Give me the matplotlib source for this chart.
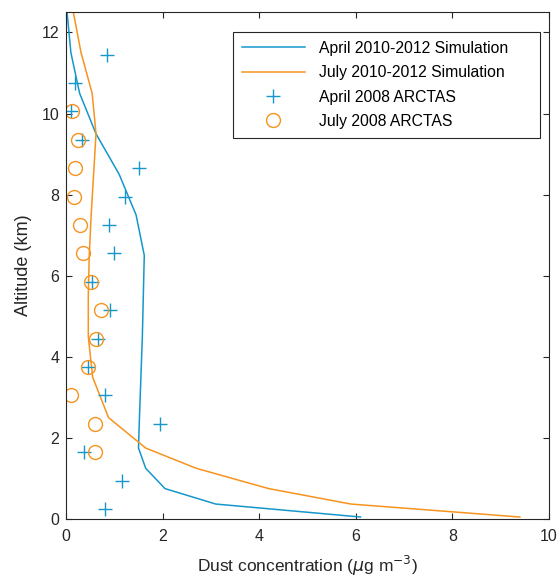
import matplotlib
matplotlib.use('Agg')
import matplotlib.pyplot as plt

# model levels (km) and simulated dust profiles
sim_alt = [0.05, 0.37, 0.75, 1.25, 1.75, 2.5, 3.5, 4.5, 5.5, 6.5, 7.5, 8.5, 9.5, 10.5, 11.5, 12.5]
april_sim = [6.1, 3.1, 2.05, 1.65, 1.5, 1.52, 1.55, 1.58, 1.6, 1.62, 1.45, 1.1, 0.62, 0.28, 0.1, 0.02]
july_sim = [9.4, 5.9, 4.2, 2.7, 1.65, 0.88, 0.55, 0.46, 0.46, 0.48, 0.52, 0.57, 0.62, 0.54, 0.31, 0.15]

# ARCTAS observations
april_obs_alt = [0.25, 0.95, 1.65, 2.35, 3.05, 3.75, 4.45, 5.15, 5.85, 6.55, 7.25, 7.95, 8.65, 9.35, 10.05, 10.75, 11.45]
april_obs = [0.8, 1.16, 0.38, 1.94, 0.8, 0.45, 0.66, 0.9, 0.53, 1.0, 0.89, 1.23, 1.52, 0.32, 0.1, 0.19, 0.84]
july_obs_alt = [1.65, 2.35, 3.05, 3.75, 4.45, 5.15, 5.85, 6.55, 7.25, 7.95, 8.65, 9.35, 10.05]
july_obs = [0.59, 0.59, 0.11, 0.45, 0.62, 0.73, 0.51, 0.36, 0.28, 0.16, 0.19, 0.24, 0.13]

blue = '#1597CB'
orange = '#F7931E'

plt.rcParams['font.family'] = ['Liberation Sans', 'DejaVu Sans']

fig = plt.figure(figsize=(5.6, 5.78), dpi=100)
ax = fig.add_axes([0.118, 0.102, 0.862, 0.877])

ax.plot(april_sim, sim_alt, color=blue, lw=1.1, label='April 2010-2012 Simulation')
ax.plot(july_sim, sim_alt, color=orange, lw=1.1, label='July 2010-2012 Simulation')
ax.plot(april_obs, april_obs_alt, '+', color=blue, ms=10, mew=1.0, label='April 2008 ARCTAS')
ax.plot(july_obs, july_obs_alt, 'o', color=orange, mfc='none', ms=10, mew=1.0,
        label='July 2008 ARCTAS')

ax.set_xlim(0, 10)
ax.set_ylim(0, 12.5)
ax.set_xticks([0, 2, 4, 6, 8, 10])
ax.set_yticks([0, 2, 4, 6, 8, 10, 12])
ax.tick_params(direction='in', top=True, right=True, labelsize=11.5, colors='#262626',
               length=4, width=0.8)
ax.tick_params(axis='x', pad=7.5)
ax.tick_params(axis='y', pad=5)
for s in ax.spines.values():
    s.set_color('#262626')
    s.set_linewidth(0.8)

ax.set_xlabel('Dust concentration ($\\mu$g m$^{-3}$)', fontsize=12.5, labelpad=7,
              color='#262626')
ax.set_ylabel('Altitude (km)', fontsize=13, labelpad=7, color='#262626')

leg = ax.legend(loc='upper right', bbox_to_anchor=(0.346, 0.5, 0.636, 0.4606),
                mode='expand', fontsize=11.3,
                fancybox=False, edgecolor='#262626', framealpha=1, handlelength=4.0,
                handletextpad=0.9, borderpad=0.55, labelspacing=0.6, borderaxespad=0)
leg.get_frame().set_linewidth(0.8)

fig.savefig('out.png', dpi=100)
